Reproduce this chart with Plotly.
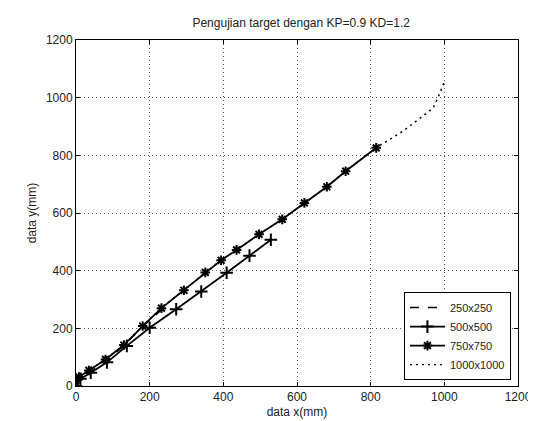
import plotly.graph_objects as go

title = "Pengujian target dengan KP=0.9 KD=1.2"
x_label = "data x(mm)"
y_label = "data y(mm)"
tick_vals = [0, 200, 400, 600, 800, 1000, 1200]

names = ["250x250", "500x500", "750x750", "1000x1000"]

x250 = [0, 10, 38, 84, 130, 178, 230]
y250 = [0, 27, 50, 88, 140, 203, 262]

x500 = [0, 12, 40, 84, 138, 200, 272, 340, 409, 471, 529]
y500 = [0, 25, 46, 82, 139, 202, 266, 328, 393, 452, 507]

x750 = [0, 8, 35, 80, 130, 181, 232, 293, 351, 394, 436, 497, 560, 620, 681, 732, 815]
y750 = [0, 31, 54, 92, 142, 208, 270, 332, 394, 436, 472, 526, 578, 635, 691, 745, 826]

x1000 = x750 + [888, 942, 969, 982, 994, 1000]
y1000 = y750 + [884, 935, 963, 998, 1037, 1055]

dot_style = "2px,4px"

fig = go.Figure()
fig.add_trace(go.Scatter(x=x1000, y=y1000, mode="lines", name=names[3],
                         line=dict(color="black", width=1.5, dash=dot_style), showlegend=False))
fig.add_trace(go.Scatter(x=x250, y=y250, mode="lines", name=names[0],
                         line=dict(color="black", width=1.5, dash="dash")))
fig.add_trace(go.Scatter(x=x500, y=y500, mode="lines+markers", name=names[1],
                         line=dict(color="black", width=1.8),
                         marker=dict(symbol="cross-thin-open", size=9, color="black",
                                     line=dict(width=2, color="black"))))
fig.add_trace(go.Scatter(x=x750, y=y750, mode="lines+markers", name=names[2],
                         line=dict(color="black", width=1.8),
                         marker=dict(symbol="asterisk-open", size=8, color="black",
                                     line=dict(width=2, color="black"))))
fig.add_trace(go.Scatter(x=[None], y=[None], mode="lines", name=names[3],
                         line=dict(color="black", width=1.2, dash=dot_style)))

axis_common = dict(
    range=[0, 1200], tickvals=tick_vals, ticks="inside", ticklen=4, tickcolor="black",
    showline=True, linecolor="black", linewidth=1, mirror="allticks",
    showgrid=True, gridcolor="#555555", griddash="1px,3px", gridwidth=1,
    zeroline=False, tickfont=dict(family="Arial", size=12, color="#222"),
)

fig.update_layout(
    width=536, height=421,
    paper_bgcolor="white", plot_bgcolor="white",
    margin=dict(l=68, r=20, t=32, b=37),
    title=dict(text=title, x=0.547, xanchor="center", y=0.965, yanchor="middle",
               font=dict(family="Arial", size=12, color="#222")),
    xaxis=dict(**axis_common, title=dict(text=x_label, standoff=4,
                                         font=dict(family="Arial", size=12, color="#222"))),
    yaxis=dict(**axis_common, title=dict(text=y_label, standoff=6,
                                         font=dict(family="Arial", size=12, color="#222"))),
    legend=dict(x=0.984, y=0.017, xanchor="right", yanchor="bottom",
                bgcolor="white", bordercolor="black", borderwidth=1,
                font=dict(family="Arial", size=11, color="#222"),
                tracegroupgap=0, itemwidth=35),
    showlegend=True,
)

fig.write_html("out.html")
